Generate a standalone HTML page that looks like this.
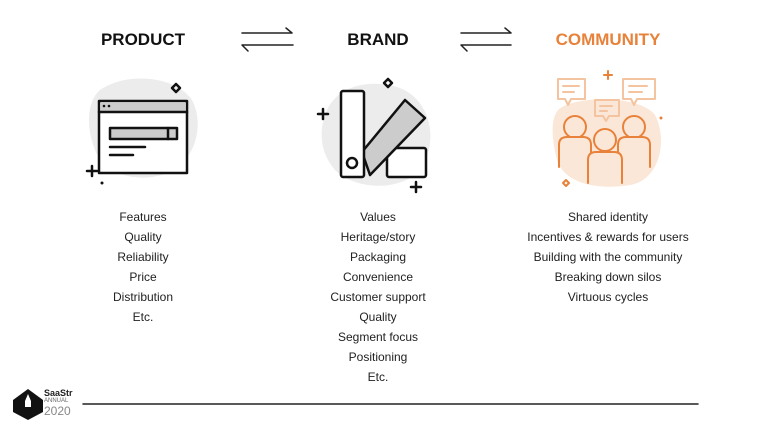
<!DOCTYPE html>
<html><head><style>
body{margin:0;width:758px;height:427px;background:#fff;font-family:"Liberation Sans",sans-serif;position:relative;overflow:hidden}
.t{position:absolute;top:30px;font-weight:bold;font-size:17px;transform:translateX(-50%);color:#111}
.l{position:absolute;top:207px;transform:translateX(-50%);text-align:center;font-size:12px;line-height:20px;color:#222;white-space:nowrap}
svg{position:absolute;left:0;top:0}
</style></head><body>
<div class="t" style="left:143px">PRODUCT</div>
<div class="t" style="left:378px">BRAND</div>
<div class="t" style="left:608px;color:#e8823a">COMMUNITY</div>
<svg width="758" height="427" fill="none" stroke-linecap="round" stroke-linejoin="round">
<g stroke="#222" stroke-width="1.5">
<path d="M242 33H292M286 28L292 33M293 45H242M248 51L242 45"/>
<path d="M461 33H511M505 28L511 33M511 45H461M467 51L461 45"/>
</g>
<path d="M100 90C125 72 175 75 192 100C205 125 195 160 170 172C140 185 105 175 95 150C85 125 88 100 100 90Z" fill="#ececec"/>
<g stroke="#111" stroke-width="2.5">
<rect x="99" y="101" width="88" height="72" fill="#fff"/>
<rect x="101" y="103" width="84" height="9" fill="#ccc" stroke="none"/>
<line x1="99" y1="112" x2="187" y2="112"/>
<rect x="110" y="128" width="67" height="11" fill="#ccc"/>
<line x1="168" y1="128" x2="168" y2="139"/>
<line x1="110" y1="147" x2="145" y2="147"/><line x1="110" y1="155" x2="133" y2="155"/>
<path d="M87 171h10M92 166v10"/>
<path d="M172 88l4-4 4 4-4 4z"/>
</g>
<circle cx="104" cy="106" r="1.3" fill="#111"/><circle cx="109" cy="106" r="1.3" fill="#111"/>
<circle cx="102" cy="183" r="1.5" fill="#111"/>
<path d="M325 115C335 85 370 78 400 88C430 100 440 140 420 170C400 192 355 190 335 170C322 155 318 135 325 115Z" fill="#ececec"/>
<g stroke="#111" stroke-width="2.5">
<rect x="387" y="148" width="39" height="29" rx="2" fill="#fff"/>
<path d="M362 152L405 100L425 118L370 175Z" fill="#ccc"/>
<rect x="341" y="91" width="23" height="86" rx="2" fill="#fff"/>
<circle cx="352" cy="163" r="5"/>
<path d="M318 114h10M323 109v10M411 187h10M416 182v10"/>
<path d="M384 83l4-4 4 4-4 4z"/>
</g>
<path d="M558 110C575 95 640 95 655 115C668 140 660 180 630 185C600 190 565 185 557 160C552 140 550 120 558 110Z" fill="#fbe7d8"/>
<g stroke="#e8823a" stroke-width="2">
<g stroke="#f3c49f"><path d="M558 79h27v20h-14l-3 6-3-6h-7z"/><path d="M563 86h16M563 92h11"/>
<path d="M623 79h32v20h-18l-3 6-3-6h-8z"/><path d="M629 86h18M629 92h13"/>
<path d="M595 100h24v16h-10l-3 5-3-5h-8z"/><path d="M600 106h12M600 111h7"/></g>
<circle cx="575" cy="127" r="11" fill="#fbe7d8"/>
<path d="M559 167v-22q0-8 8-8h16q8 0 8 8v22" fill="#fbe7d8"/>
<circle cx="634" cy="127" r="11" fill="#fbe7d8"/>
<path d="M618 167v-22q0-8 8-8h16q8 0 8 8v22" fill="#fbe7d8"/>
<circle cx="605" cy="140" r="11" fill="#fbe7d8"/>
<path d="M588 183v-23q0-8 8-8h18q8 0 8 8v23" fill="#fbe7d8"/>
<path d="M604 75h8M608 71v8"/>
<path d="M563 183l3-3 3 3-3 3z"/>
</g>
<circle cx="661" cy="118" r="1.5" fill="#e8823a"/>
<line x1="83" y1="404" x2="698" y2="404" stroke="#222" stroke-width="1.5"/>
<path d="M13 400L28 389L43 400V412L28 420L13 412Z" fill="#111"/>
<path d="M28 394l3 7v6h-6v-6z" fill="#fff"/>
</svg>
<div style="position:absolute;left:44px;top:388px;font-size:9px;font-weight:bold;color:#222">SaaStr</div>
<div style="position:absolute;left:44px;top:398px;font-size:6px;color:#666">ANNUAL</div>
<div style="position:absolute;left:44px;top:404px;font-size:12px;color:#888">2020</div>
<div class="l" style="left:143px">Features<br>Quality<br>Reliability<br>Price<br>Distribution<br>Etc.</div>
<div class="l" style="left:378px">Values<br>Heritage/story<br>Packaging<br>Convenience<br>Customer support<br>Quality<br>Segment focus<br>Positioning<br>Etc.</div>
<div class="l" style="left:608px">Shared identity<br>Incentives &amp; rewards for users<br>Building with the community<br>Breaking down silos<br>Virtuous cycles</div>
</body></html>
